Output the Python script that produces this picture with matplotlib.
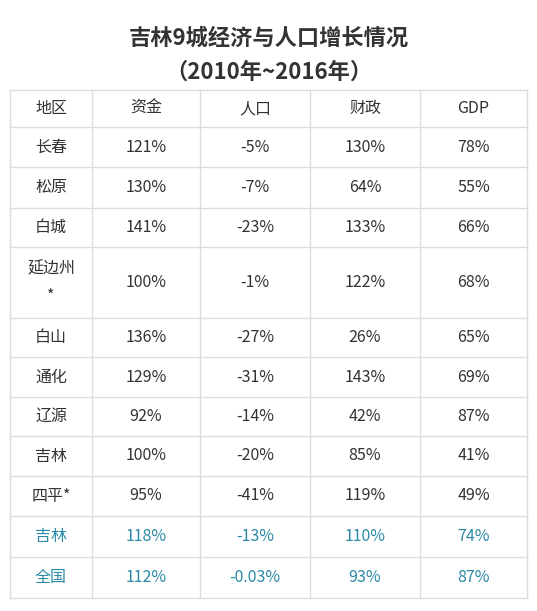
import matplotlib
matplotlib.use("Agg")
import matplotlib.pyplot as plt

plt.rcParams['font.family'] = ['Noto Sans CJK SC', 'DejaVu Sans']

title1 = "吉林9城经济与人口增长情况"
title2 = "（2010年~2016年）"
headers = ["地区", "资金", "人口", "财政", "GDP"]
regions = ["长春", "松原", "白城", "延边州\n*", "白山", "通化", "辽源", "吉林", "四平*", "吉林", "全国"]
funds = ["121%", "130%", "141%", "100%", "136%", "129%", "92%", "100%", "95%", "118%", "112%"]
population = ["-5%", "-7%", "-23%", "-1%", "-27%", "-31%", "-14%", "-20%", "-41%", "-13%", "-0.03%"]
finance = ["130%", "64%", "133%", "122%", "26%", "143%", "42%", "85%", "119%", "110%", "93%"]
gdp = ["78%", "55%", "66%", "68%", "65%", "69%", "87%", "41%", "49%", "74%", "87%"]
highlight = [False]*9 + [True, True]

W, H = 537, 611
fig = plt.figure(figsize=(W/100, H/100), dpi=100)
ax = fig.add_axes([0, 0, 1, 1])
ax.set_xlim(0, W); ax.set_ylim(H, 0); ax.axis('off')

ax.text(W/2, 38, title1, ha='center', va='center', fontsize=16, fontweight='bold', color='#333333')
ax.text(W/2, 72, title2, ha='center', va='center', fontsize=16, fontweight='bold', color='#333333')

xs = [10, 92, 200, 310, 420, 527]
ys = [90, 127, 167, 208, 247, 318, 357, 397, 436, 476, 516, 557, 598]
lc = '#dddddd'
for x in xs:
    ax.plot([x, x], [ys[0], ys[-1]], color=lc, lw=1)
for y in ys:
    ax.plot([xs[0], xs[-1]], [y, y], color=lc, lw=1)

def cell(ci, ri, s, color):
    ax.text((xs[ci]+xs[ci+1])/2, (ys[ri]+ys[ri+1])/2, s, ha='center', va='center',
            fontsize=11.5, color=color, linespacing=1.8, fontweight='medium')

for ci, h in enumerate(headers):
    cell(ci, 0, h, '#333333')
for i in range(len(regions)):
    col = '#2a8aa6' if highlight[i] else '#333333'
    for ci, v in enumerate([regions[i], funds[i], population[i], finance[i], gdp[i]]):
        cell(ci, i+1, v, col)

fig.savefig("out.png", dpi=100, facecolor='white')
